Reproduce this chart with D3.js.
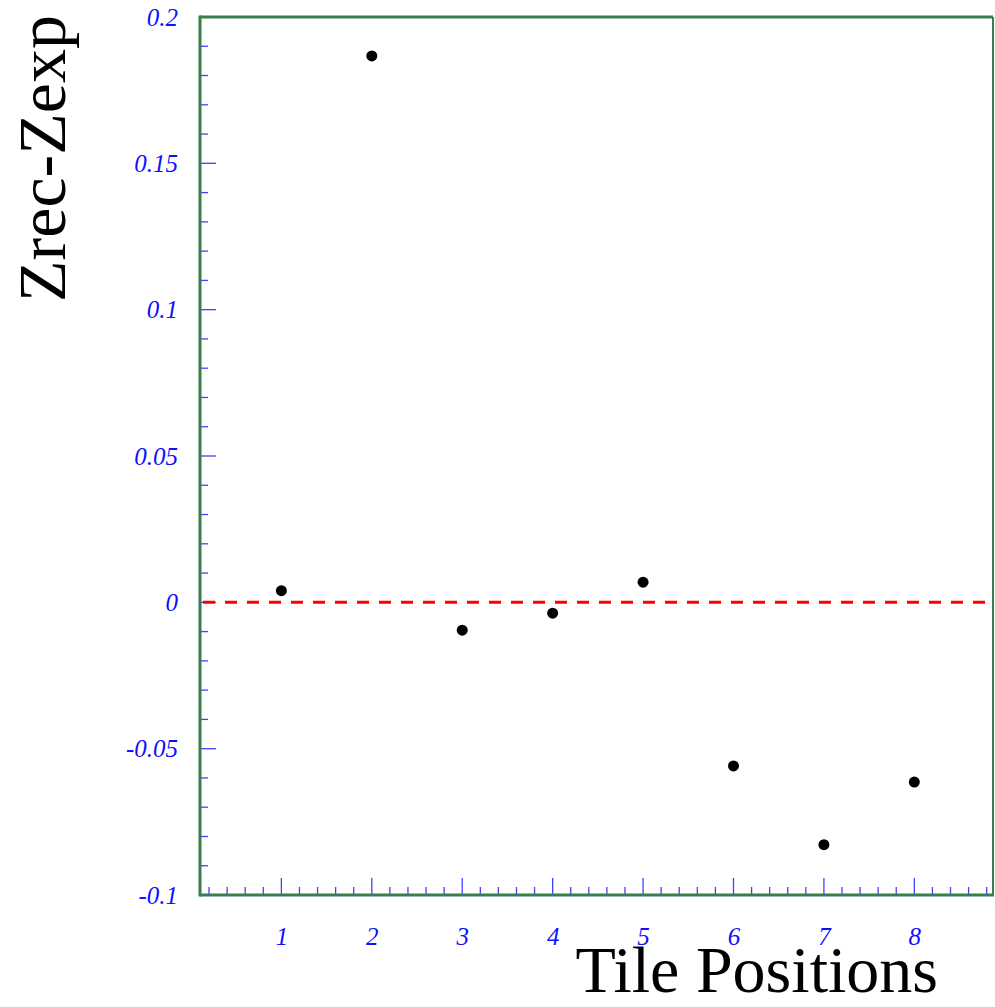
<!DOCTYPE html>
<html><head><meta charset="utf-8">
<script src="https://cdn.jsdelivr.net/npm/d3@7"></script>
<style>html,body{margin:0;padding:0;background:#fff;}svg{display:block;}</style>
</head><body>
<svg id="c" width="995" height="1007"></svg>
<script>
const positions = [1, 2, 3, 4, 5, 6, 7, 8];
const residuals = [0.0040, 0.1867, -0.0095, -0.0037, 0.0069, -0.0559, -0.0828, -0.0614];
const yTickLabels = [-0.1, -0.05, 0, 0.05, 0.1, 0.15, 0.2];
const xTickLabels = [1, 2, 3, 4, 5, 6, 7, 8];

const W = 995, H = 1007;
const L = 200, R = 993, T = 17, B = 895;
const svg = d3.select('#c');
const x = d3.scaleLinear().domain([0.1, 8.87]).range([L, R]);
const y = d3.scaleLinear().domain([-0.1, 0.2]).range([B, T]);
const blue = '#1010ff', frame = '#3a7d4c';
const fmt = d => d3.format('~g')(d).replace('\u2212', '-');

// minor / major ticks
const yMinor = d3.range(-100, 201, 10).map(v => v / 1000);
const xMinor = d3.range(2, 89, 2).map(v => v / 10);
const g = svg.append('g');
g.selectAll('.ym').data(yMinor).enter().append('line')
  .attr('x1', L).attr('x2', d => (Math.round(d * 1000) % 50 === 0) ? L + 16 : L + 8)
  .attr('y1', d => y(d)).attr('y2', d => y(d))
  .attr('stroke', blue).attr('stroke-opacity', 0.8).attr('stroke-width', 1.3);
g.selectAll('.xm').data(xMinor).enter().append('line')
  .attr('x1', d => x(d)).attr('x2', d => x(d))
  .attr('y1', B).attr('y2', d => (Math.abs(d - Math.round(d)) < 1e-6) ? B - 17 : B - 8)
  .attr('stroke', blue).attr('stroke-opacity', 0.8).attr('stroke-width', 1.3);

// axis tick labels via d3 axes
const yAxis = d3.axisLeft(y).tickValues(yTickLabels).tickSize(0).tickPadding(22).tickFormat(fmt);
svg.append('g').attr('transform', `translate(${L},0)`).call(yAxis)
  .call(s => s.select('.domain').remove())
  .selectAll('text').attr('fill', blue).attr('font-family', 'Liberation Serif, Times New Roman, serif')
  .attr('font-style', 'italic').attr('font-size', 25).attr('dy', '0.32em');
const xAxis = d3.axisBottom(x).tickValues(xTickLabels).tickSize(0).tickPadding(32).tickFormat(d3.format('d'));
svg.append('g').attr('transform', `translate(0,${B})`).call(xAxis)
  .call(s => s.select('.domain').remove())
  .selectAll('text').attr('fill', blue).attr('font-family', 'Liberation Serif, Times New Roman, serif')
  .attr('font-style', 'italic').attr('font-size', 25);

// zero dashed line
svg.append('line').attr('x1', L + 3).attr('x2', R).attr('y1', y(0)).attr('y2', y(0))
  .attr('stroke', '#ff0000').attr('stroke-width', 3).attr('stroke-dasharray', '12,10');

// frame
svg.append('line').attr('x1', L).attr('x2', R).attr('y1', T).attr('y2', T).attr('stroke', frame).attr('stroke-width', 3);
svg.append('line').attr('x1', R).attr('x2', R).attr('y1', T).attr('y2', B).attr('stroke', frame).attr('stroke-width', 2);
svg.append('line').attr('x1', L).attr('x2', L).attr('y1', T - 1.5).attr('y2', B + 1.5).attr('stroke', frame).attr('stroke-width', 3);
svg.append('line').attr('x1', L).attr('x2', R + 1).attr('y1', B).attr('y2', B).attr('stroke', frame).attr('stroke-width', 3);

// points
svg.selectAll('.pt').data(positions).enter().append('circle')
  .attr('cx', d => x(d)).attr('cy', (d, i) => y(residuals[i])).attr('r', 5.5).attr('fill', '#000');

// titles
svg.append('text').attr('x', 938).attr('y', 992).attr('text-anchor', 'end')
  .attr('font-family', 'Liberation Serif, Times New Roman, serif').attr('font-size', 66).attr('fill', '#000')
  .text('Tile Positions');
svg.append('text').attr('transform', 'translate(65,15) rotate(-90)').attr('text-anchor', 'end')
  .attr('font-family', 'Liberation Serif, Times New Roman, serif').attr('font-size', 68).attr('fill', '#000')
  .text('Zrec-Zexp');
</script>
</body></html>
